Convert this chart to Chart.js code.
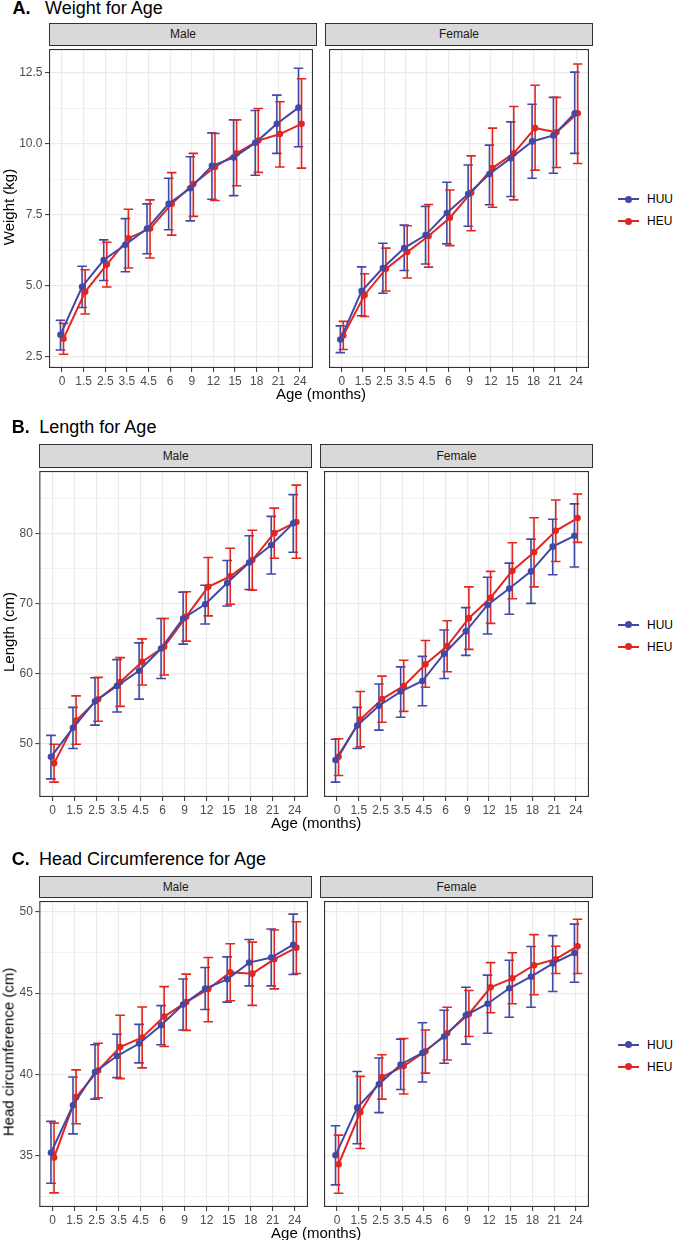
<!DOCTYPE html>
<html><head><meta charset="utf-8">
<script src="https://cdn.jsdelivr.net/npm/chart.js@4.4.0/dist/chart.umd.min.js"></script>
<style>
html,body{margin:0;padding:0;background:#fff;}
body{width:673px;height:1240px;position:relative;overflow:hidden;font-family:"Liberation Sans",Arial,Helvetica,sans-serif;}
canvas{position:absolute;}
.txt{position:absolute;white-space:nowrap;line-height:1;}
.strip{position:absolute;box-sizing:border-box;background:#D9D9D9;border:1px solid #333;font-size:12px;color:#1A1A1A;text-align:center;}
.leg{position:absolute;height:12px;}
.leg .ln{position:absolute;left:0;top:5px;width:21px;height:2px;}
.leg .dt{position:absolute;left:7px;top:2.5px;width:7px;height:7px;border-radius:50%;}
.leg .lt{position:absolute;left:29.5px;top:0;font-size:12px;line-height:12px;color:#000;}
</style></head>
<body>
<script>
// ---------- data ----------
const ageLabels = ['0','1.5','2.5','3.5','4.5','6','9','12','15','18','21','24'];
const groups = ['HUU','HEU'];

// Weight (kg)
const weightMaleHUU      = [3.28,4.97,5.91,6.45,7.02,7.89,8.44,9.23,9.52,10.04,10.71,11.28];
const weightMaleHUULow   = [2.74,4.24,5.19,5.50,6.13,6.98,7.29,8.05,8.18,8.90,9.67,9.90];
const weightMaleHUUHigh  = [3.79,5.69,6.62,7.37,7.89,8.79,9.55,10.39,10.85,11.18,11.72,12.67];
const weightMaleHEU      = [3.14,4.79,5.75,6.68,7.02,7.89,8.59,9.19,9.67,10.12,10.35,10.71];
const weightMaleHEULow   = [2.59,4.01,4.96,5.63,5.98,6.79,7.45,8.01,8.53,9.00,9.19,9.15];
const weightMaleHEUHigh  = [3.68,5.57,6.54,7.70,8.03,8.99,9.67,10.37,10.85,11.25,11.49,12.30];
const weightFemaleHUU    = [3.11,4.82,5.63,6.33,6.79,7.57,8.24,8.94,9.50,10.09,10.30,11.08];
const weightFemaleHUULow = [2.65,3.95,4.74,5.54,5.77,6.48,7.10,7.86,8.15,8.79,8.97,9.67];
const weightFemaleHUUHigh= [3.59,5.67,6.50,7.14,7.80,8.65,9.26,9.96,10.78,11.40,11.64,12.53];
const weightFemaleHEU    = [3.25,4.68,5.60,6.19,6.76,7.40,8.28,9.15,9.67,10.56,10.41,11.08];
const weightFemaleHEULow = [2.76,3.92,4.82,5.28,5.66,6.42,6.94,7.77,8.03,9.08,9.17,9.31];
const weightFemaleHEUHigh= [3.75,5.43,6.33,7.12,7.87,8.38,9.58,10.56,11.32,12.07,11.64,12.82];

// Length (cm)
const lengthMaleHUU      = [48.06,52.21,56.00,58.20,60.36,63.55,67.85,69.87,72.93,75.85,78.35,81.45];
const lengthMaleHUULow   = [44.90,49.24,52.59,54.47,56.31,59.27,64.17,67.05,69.64,71.99,74.20,77.32];
const lengthMaleHUUHigh  = [51.13,55.13,59.37,61.96,64.36,67.85,71.62,72.60,76.14,79.67,82.45,85.56];
const lengthMaleHEU      = [47.12,53.25,56.30,58.75,61.65,63.80,68.10,72.37,73.88,76.20,80.05,81.65];
const lengthMaleHEULow   = [44.44,49.85,53.15,55.27,58.33,59.75,64.60,68.22,69.87,71.90,76.47,76.47];
const lengthMaleHEUHigh  = [49.85,56.78,59.42,62.24,64.93,67.85,71.66,76.56,77.88,80.47,83.63,86.92];
const lengthFemaleHUU    = [47.59,52.54,55.36,57.39,58.90,62.81,66.01,69.78,72.13,74.58,78.12,79.67];
const lengthFemaleHUULow = [44.44,49.24,51.88,53.72,55.36,59.27,62.57,65.63,68.46,70.01,74.11,75.20];
const lengthFemaleHUUHigh= [50.56,55.13,58.47,60.92,62.43,66.20,69.40,73.74,75.76,79.20,82.03,84.24];
const lengthFemaleHEU    = [48.06,53.39,56.31,58.19,61.30,63.89,67.89,70.81,74.68,77.32,80.38,82.21];
const lengthFemaleHEULow = [45.38,49.48,53.01,54.56,58.00,60.22,63.42,67.14,70.67,72.37,76.00,78.73];
const lengthFemaleHEUHigh= [50.65,57.39,59.60,61.86,64.69,67.52,72.37,74.58,78.68,82.26,84.80,85.65];

// Head circumference (cm)
const headMaleHUU        = [35.18,38.10,40.15,41.13,41.90,43.02,44.30,45.28,45.85,46.88,47.19,47.98];
const headMaleHUULow     = [33.30,36.34,38.48,39.80,40.71,41.82,42.73,43.99,44.45,45.45,45.45,46.15];
const headMaleHUUHigh    = [37.11,39.84,41.82,42.47,43.08,44.23,45.87,46.58,47.23,48.30,48.95,49.86];
const headMaleHEU        = [34.88,38.60,40.24,41.68,42.27,43.56,44.45,45.25,46.28,46.20,47.09,47.80];
const headMaleHEULow     = [32.71,36.96,38.56,39.74,40.40,41.72,42.71,43.24,44.53,44.25,45.26,46.21];
const headMaleHEUHigh    = [37.00,40.28,41.92,43.64,44.15,45.40,46.17,47.19,48.04,48.14,48.89,49.39];
const headFemaleHUU      = [35.02,37.96,39.39,40.61,41.32,42.33,43.64,44.35,45.30,46.01,46.82,47.47];
const headFemaleHUULow   = [33.20,35.73,37.65,39.07,39.53,40.69,41.86,42.53,43.52,44.13,45.10,45.67];
const headFemaleHUUHigh  = [36.84,40.18,41.01,42.17,43.18,43.95,45.36,46.11,47.02,47.87,48.54,49.25];
const headFemaleHEU      = [34.47,37.67,39.84,40.51,41.42,42.53,43.72,45.36,45.91,46.72,47.09,47.89];
const headFemaleHEULow   = [32.69,35.44,38.48,38.79,40.08,40.89,42.33,43.79,44.35,44.90,46.21,46.21];
const headFemaleHEUHigh  = [36.26,39.88,41.21,42.21,42.73,44.13,45.16,46.88,47.49,48.60,47.89,49.55];

// Y tick labels (major) and minor grid values
const weightTicks = [2.5,5.0,7.5,10.0,12.5];
const weightMinor = [3.75,6.25,8.75,11.25];
const lengthTicks = [50,60,70,80];
const lengthMinor = [45,55,65,75,85];
const headTicks   = [35,40,45,50];
const headMinor   = [32.5,37.5,42.5,47.5];

// ---------- styling / layout ----------
const FONT = '"Liberation Sans", Arial, Helvetica, sans-serif';
const COLORS = {HUU:'#4148A6', HEU:'#E2261F'};
const GRID = '#EBEBEB';
const X_AXIS_H = 24;
const DODGE = 0.07;

const rows = [
  {letter:'A.', title:'Weight for Age', yTitle:'Weight (kg)', titleBase:14, letterX:12.5, titleX:45,
   stripTop:23, plotTop:45, plotBottom:368, mL:49, mR:317, fL:325, fR:593,
   yMin:2.107, yMax:13.346, ticks:weightTicks, minor:weightMinor, fmt:v=>v.toFixed(1),
   male:[[weightMaleHUU,weightMaleHUULow,weightMaleHUUHigh],[weightMaleHEU,weightMaleHEULow,weightMaleHEUHigh]],
   female:[[weightFemaleHUU,weightFemaleHUULow,weightFemaleHUUHigh],[weightFemaleHEU,weightFemaleHEULow,weightFemaleHEUHigh]]},
  {letter:'B.', title:'Length for Age', yTitle:'Length (cm)', titleBase:433.3, letterX:11.7, titleX:39.3,
   stripTop:444, plotTop:467, plotBottom:797, mL:39.3, mR:312, fL:320, fR:593,
   yMin:42.31, yMax:88.94, ticks:lengthTicks, minor:lengthMinor, fmt:v=>String(v),
   male:[[lengthMaleHUU,lengthMaleHUULow,lengthMaleHUUHigh],[lengthMaleHEU,lengthMaleHEULow,lengthMaleHEUHigh]],
   female:[[lengthFemaleHUU,lengthFemaleHUULow,lengthFemaleHUUHigh],[lengthFemaleHEU,lengthFemaleHEULow,lengthFemaleHEUHigh]]},
  {letter:'C.', title:'Head Circumference for Age', yTitle:'Head circumference (cm)', titleBase:865, letterX:11.7, titleX:39,
   stripTop:876, plotTop:897, plotBottom:1207, mL:39.3, mR:312, fL:320, fR:593,
   yMin:31.84, yMax:50.67, ticks:headTicks, minor:headMinor, fmt:v=>String(v),
   male:[[headMaleHUU,headMaleHUULow,headMaleHUUHigh],[headMaleHEU,headMaleHEULow,headMaleHEUHigh]],
   female:[[headFemaleHUU,headFemaleHUULow,headFemaleHUUHigh],[headFemaleHEU,headFemaleHEULow,headFemaleHEUHigh]]}
];

// ---------- plugins ----------
const errorBarPlugin = {
  id:'errorBars',
  beforeDatasetsDraw(chart){
    const {ctx, scales:{x, y}} = chart;
    chart.data.datasets.forEach(ds=>{
      ctx.save();
      ctx.strokeStyle = ds.borderColor;
      ctx.lineWidth = 1.6;
      ds.data.forEach((p,i)=>{
        const px = x.getPixelForValue(p.x);
        const c0 = x.getPixelForValue(p.x - 0.22), c1 = x.getPixelForValue(p.x + 0.22);
        const yl = y.getPixelForValue(ds.errLow[i]);
        const yh = y.getPixelForValue(ds.errHigh[i]);
        ctx.beginPath();
        ctx.moveTo(px, yl); ctx.lineTo(px, yh);
        ctx.moveTo(c0, yl); ctx.lineTo(c1, yl);
        ctx.moveTo(c0, yh); ctx.lineTo(c1, yh);
        ctx.stroke();
      });
      ctx.restore();
    });
  }
};
const panelBorderPlugin = {
  id:'panelBorder',
  afterDraw(chart){
    const {ctx, chartArea:a} = chart;
    ctx.save();
    ctx.strokeStyle = '#333333';
    ctx.lineWidth = 1.1;
    ctx.strokeRect(a.left+0.55, a.top+0.55, a.right-a.left-1.1, a.bottom-a.top-1.1);
    ctx.restore();
  }
};

function addText(txt, left, top, size, extra){
  const d = document.createElement('div');
  d.className = 'txt';
  d.textContent = txt;
  d.style.left = left+'px'; d.style.top = top+'px'; d.style.fontSize = size+'px';
  if (extra) Object.assign(d.style, extra);
  document.body.appendChild(d);
  return d;
}

function makePanel(row, sexData, isMale){
  const left = isMale ? 0 : row.fL;
  const right = isMale ? row.mR : row.fR;
  const yW = isMale ? row.mL : 0;
  const w = Math.round(right - left);
  const h = Math.round(row.plotBottom - row.plotTop) + X_AXIS_H;
  const cv = document.createElement('canvas');
  cv.width = w; cv.height = h;
  cv.style.left = left+'px'; cv.style.top = row.plotTop+'px';
  cv.style.width = w+'px'; cv.style.height = h+'px';
  document.body.appendChild(cv);

  const yAll = row.ticks.concat(row.minor).sort((a,b)=>a-b);
  const isMajor = v => row.ticks.some(t=>Math.abs(t-v)<1e-9);

  const datasets = groups.map((g,gi)=>{
    const [mean, lo, hi] = sexData[gi];
    const off = gi===0 ? -DODGE : DODGE;
    return {
      label:g,
      data: mean.map((v,i)=>({x:i+off, y:v})),
      errLow: lo, errHigh: hi,
      borderColor: COLORS[g], backgroundColor: COLORS[g],
      pointBackgroundColor: COLORS[g], pointBorderWidth:0,
      pointRadius:3.3, borderWidth:2, tension:0, fill:false
    };
  });

  new Chart(cv.getContext('2d'), {
    type:'line',
    data:{datasets},
    options:{
      responsive:false, animation:false, devicePixelRatio:1,
      layout:{padding:0},
      plugins:{legend:{display:false}, tooltip:{enabled:false}},
      scales:{
        x:{
          type:'linear', min:-0.6, max:11.6,
          afterBuildTicks: a=>{ a.ticks = ageLabels.map((_,i)=>({value:i})); },
          afterFit: a=>{ a.height = X_AXIS_H; a.paddingLeft = 0; a.paddingRight = 0; },
          grid:{color:GRID, lineWidth:1.2, drawTicks:true, tickLength:4, tickColor:'#333333', tickWidth:1},
          border:{display:false},
          ticks:{autoSkip:false, maxRotation:0, minRotation:0, padding:2, color:'#4D4D4D',
                 font:{size:12, family:FONT}, callback: v => ageLabels[Math.round(v)]}
        },
        y:{
          type:'linear', min:row.yMin, max:row.yMax,
          afterBuildTicks: a=>{ a.ticks = yAll.map(v=>({value:v})); },
          afterFit: a=>{ a.width = yW; a.paddingTop = 0; a.paddingBottom = 0; },
          grid:{color:GRID,
                lineWidth: c => (c.tick && isMajor(c.tick.value)) ? 1.2 : 0.6,
                drawTicks:isMale, tickLength:isMale?4:0,
                tickColor: c => (c.tick && isMajor(c.tick.value)) ? '#333333' : 'rgba(0,0,0,0)',
                tickWidth:1},
          border:{display:false},
          ticks:{display:isMale, autoSkip:false, padding:2.5, color:'#4D4D4D',
                 font:{size:12, family:FONT},
                 callback: v => isMajor(v) ? row.fmt(v) : ''}
        }
      }
    },
    plugins:[errorBarPlugin, panelBorderPlugin]
  });
}

function makeStrip(text, left, right, top, bottom){
  const d = document.createElement('div');
  d.className = 'strip';
  d.textContent = text;
  d.style.left = left+'px'; d.style.top = top+'px';
  d.style.width = (right-left)+'px'; d.style.height = (bottom-top+1)+'px';
  d.style.lineHeight = (bottom-top-1)+'px';
  document.body.appendChild(d);
}

function makeLegend(cy){
  groups.forEach((g,gi)=>{
    const y = cy + (gi===0 ? -11 : 11);
    const d = document.createElement('div');
    d.className = 'leg';
    d.style.left = '617.5px'; d.style.top = (y-6)+'px'; d.style.width = '60px';
    d.innerHTML = '<div class="ln"></div><div class="dt"></div><div class="lt"></div>';
    d.querySelector('.ln').style.background = COLORS[g];
    d.querySelector('.dt').style.background = COLORS[g];
    d.querySelector('.lt').textContent = g;
    document.body.appendChild(d);
  });
}

rows.forEach(row=>{
  // title
  addText(row.letter, row.letterX, row.titleBase - 0.8465*18, 18, {fontWeight:'bold', color:'#000'});
  addText(row.title, row.titleX, row.titleBase - 0.8465*18, 18, {color:'#000'});
  // strips
  makeStrip('Male', row.mL, row.mR, row.stripTop, row.plotTop);
  makeStrip('Female', row.fL, row.fR, row.stripTop, row.plotTop);
  // panels
  makePanel(row, row.male, true);
  makePanel(row, row.female, false);
  // x axis title
  const xt = addText('Age (months)', (row.mL + row.fR)/2, row.plotBottom + 31 - 0.8465*15, 15, {color:'#000', transform:'translateX(-50%)'});
  // y axis title
  const cy = (row.plotTop + row.plotBottom)/2;
  addText(row.yTitle, 7.5, cy, 15, {color:'#000', transform:'translate(-50%,-50%) rotate(-90deg)', lineHeight:'15px'});
  // legend
  makeLegend(cy + 3.5);
});
</script>
</body></html>
